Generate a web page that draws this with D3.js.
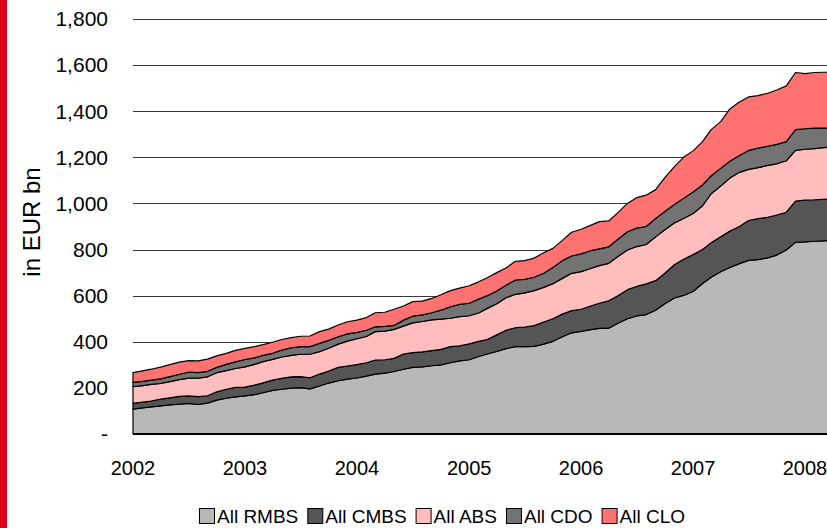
<!DOCTYPE html>
<html>
<head>
<meta charset="utf-8">
<script src="https://cdn.jsdelivr.net/npm/d3@7"></script>
<style>
  html, body { margin: 0; padding: 0; background: #fff; }
  svg { display: block; font-family: "Liberation Sans", Arial, Helvetica, sans-serif; }
</style>
</head>
<body>
<svg id="chart" width="827" height="528"></svg>
<script>
// Outstanding European securitisation volumes, monthly, EUR bn
const seriesNames = ["All RMBS", "All CMBS", "All ABS", "All CDO", "All CLO"];
const seriesColors = ["#b8b8b8", "#555555", "#ffbdbd", "#737373", "#ff7272"];

const rmbs = [108,113,118,122,126,130,133,128,134,147,155,161,
              165,171,179,189,194,199,201,196,208,221,231,238,
              243,251,260,264,271,281,289,291,296,300,309,317,
              322,336,347,358,370,379,379,380,390,402,422,439,
              445,453,458,459,480,500,512,518,537,565,590,601,
              618,653,680,704,722,739,753,756,764,776,798,831,
              833,836,838,839];
const cmbs = [25,25,25,29,31,33,32,34,32,36,39,41,
              38,41,43,45,47,49,48,48,52,52,58,57,
              58,58,61,58,57,66,64,65,66,67,70,65,
              69,66,63,72,80,82,85,90,96,98,98,96,
              96,102,109,119,120,126,128,133,128,132,144,157,
              160,147,150,152,158,161,173,178,176,174,164,179,
              182,180,180,180];
const abs  = [72,72,72,68,70,73,77,80,82,83,81,82,
              88,90,92,90,93,93,97,102,97,99,101,108,
              112,114,123,124,126,121,129,132,133,131,123,127,
              122,123,135,135,141,145,148,152,150,152,155,162,
              163,163,163,162,170,172,173,171,190,189,181,177,
              178,190,212,219,230,235,222,221,225,222,223,220,
              220,222,224,225];
const cdo  = [19,18,19,20,22,23,26,24,24,23,27,29,
              32,28,27,26,30,33,33,33,36,34,32,31,
              28,27,21,21,17,26,29,29,31,39,50,53,
              54,60,55,55,54,62,59,58,61,70,77,75,
              77,77,73,72,75,79,80,78,80,79,80,87,
              94,90,78,77,73,73,82,85,83,84,83,90,
              89,89,85,82];
const clo  = [42,46,47,51,52,53,50,51,53,50,48,50,
              48,49,47,48,46,44,45,46,51,49,51,53,
              53,55,61,61,70,61,63,59,62,67,70,71,
              76,75,78,80,75,81,81,83,89,83,88,103,
              107,110,118,112,115,123,132,136,125,147,165,178,
              178,188,200,203,227,232,232,228,230,236,242,248,
              239,241,242,243];

const yearLabels = ["2002", "2003", "2004", "2005", "2006", "2007", "2008"];
const yTicks = [0, 200, 400, 600, 800, 1000, 1200, 1400, 1600, 1800];

// month-end observations from Jan 2002 onward
const months = d3.timeMonth.range(new Date(2002, 0, 1), new Date(2008, 4, 1));

const rows = months.map((d, i) => ({
  date: d,
  "All RMBS": rmbs[i], "All CMBS": cmbs[i], "All ABS": abs[i],
  "All CDO": cdo[i], "All CLO": clo[i]
}));

const svg = d3.select("#chart");
const W = 827, H = 528;

const x = d3.scaleTime()
  .domain([new Date(2002, 0, 1), new Date(2008, 0, 1)])
  .range([133, 805]);
const y = d3.scaleLinear().domain([0, 1800]).range([434, 19]);

// red side strip
svg.append("rect").attr("x", 0).attr("y", 0).attr("width", 7).attr("height", H).attr("fill", "#e2001a");

// horizontal gridlines
svg.append("g").selectAll("line")
  .data(yTicks.filter(v => v > 0))
  .join("line")
  .attr("x1", 133).attr("x2", W)
  .attr("y1", d => Math.round(y(d)) + 0.5).attr("y2", d => Math.round(y(d)) + 0.5)
  .attr("stroke", "#3a3a3a").attr("stroke-width", 1.2);

// stacked areas
const stack = d3.stack().keys(seriesNames);
const layers = stack(rows);
const area = d3.area()
  .x(d => x(d.data.date))
  .y0(d => y(d[0]))
  .y1(d => y(d[1]));

svg.append("g").selectAll("path")
  .data(layers)
  .join("path")
  .attr("d", area)
  .attr("fill", (d, i) => seriesColors[i])
  .attr("stroke", "#000")
  .attr("stroke-width", 1.2)
  .attr("stroke-linejoin", "round");

// x axis baseline
svg.append("line")
  .attr("x1", 133).attr("x2", W)
  .attr("y1", 434).attr("y2", 434)
  .attr("stroke", "#000").attr("stroke-width", 2);

// y tick labels
const yFmt = d3.format(",");
svg.append("g").selectAll("text")
  .data(yTicks)
  .join("text")
  .attr("x", 108)
  .attr("y", d => y(d))
  .attr("dy", "0.35em")
  .attr("text-anchor", "end")
  .attr("font-size", 21)
  .attr("fill", "#000")
  .text(d => d === 0 ? "-" : yFmt(d));

// x year labels
svg.append("g").selectAll("text")
  .data(yearLabels)
  .join("text")
  .attr("x", d => x(new Date(+d, 0, 1)))
  .attr("y", 468)
  .attr("dy", "0.35em")
  .attr("text-anchor", "middle")
  .attr("font-size", 20)
  .attr("fill", "#000")
  .text(d => d);

// y axis title
svg.append("text")
  .attr("transform", "translate(32,222) rotate(-90)")
  .attr("text-anchor", "middle")
  .attr("dy", "0.35em")
  .attr("font-size", 24)
  .attr("fill", "#000")
  .text("in EUR bn");

// legend
const legend = svg.append("g").attr("transform", "translate(199,508)");
let lx = 0;
seriesNames.forEach((name, i) => {
  const g = legend.append("g").attr("transform", `translate(${lx},0)`);
  g.append("rect").attr("x", 0.5).attr("y", 0.5).attr("width", 15).attr("height", 15)
    .attr("fill", seriesColors[i]).attr("stroke", "#000").attr("stroke-width", 1);
  const t = g.append("text").attr("x", 18).attr("y", 8).attr("dy", "0.35em")
    .attr("font-size", 19).attr("fill", "#000").text(name);
  lx += 18 + t.node().getComputedTextLength() + 9;
});
</script>
</body>
</html>
